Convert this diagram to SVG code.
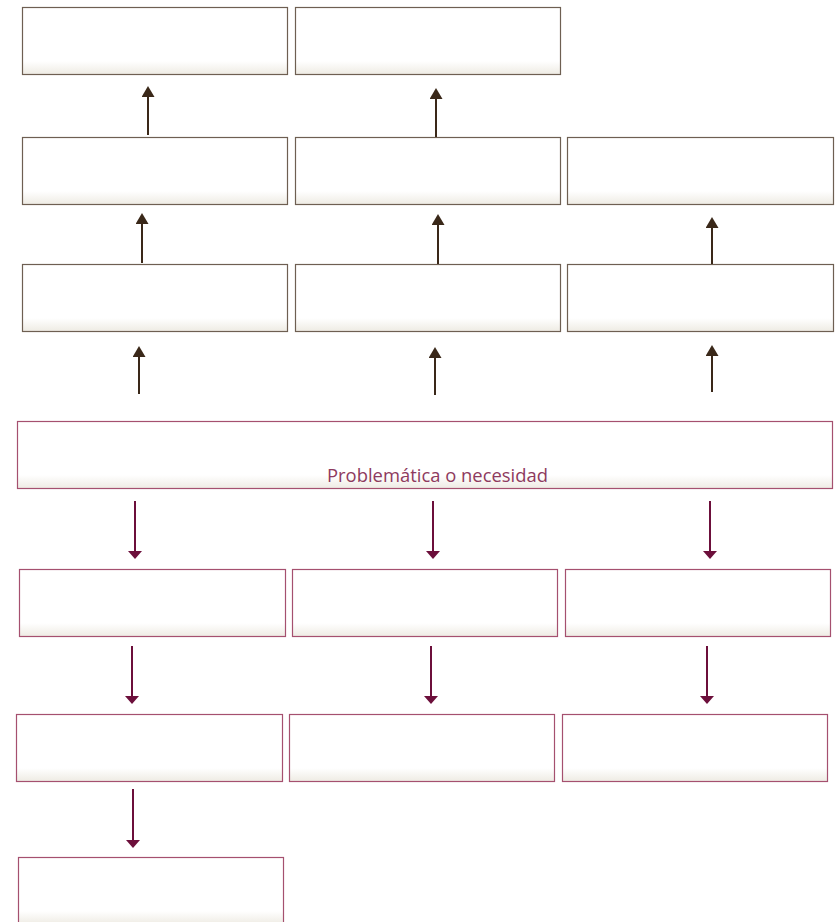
<svg xmlns="http://www.w3.org/2000/svg" width="839" height="922" viewBox="0 0 839 922">
<defs>
<linearGradient id="g" x1="0" y1="0" x2="0" y2="1">
<stop offset="0" stop-color="#ffffff"/>
<stop offset="0.8" stop-color="#ffffff"/>
<stop offset="1" stop-color="#eeebe3"/>
</linearGradient>
<marker id="up" viewBox="0 0 11 13" refX="0" refY="6.5" markerWidth="11" markerHeight="13" markerUnits="userSpaceOnUse" orient="auto">
<path d="M0,0 L11,6.5 L0,13 Z" fill="#3a2819"/>
</marker>
<marker id="down" viewBox="0 0 8 14" refX="0" refY="7" markerWidth="8" markerHeight="14" markerUnits="userSpaceOnUse" orient="auto">
<path d="M0,0 L8,7 L0,14 Z" fill="#6c0f3b"/>
</marker>
</defs>
<style>
.bu{fill:url(#g);stroke:#6e5f52;stroke-width:1.2}
.bd{fill:url(#g);stroke:#a5506f;stroke-width:1.2}
.au{stroke:#3a2819;stroke-width:2;fill:none;marker-end:url(#up)}
.ad{stroke:#6c0f3b;stroke-width:2;fill:none;marker-end:url(#down)}
.t{font-family:"Open Sans","Noto Sans",sans-serif;font-size:18px;fill:#8e3a5e}
</style>
<g id="n_r1c1"><rect class="bu" x="22.5" y="7.5" width="265" height="67"/></g>
<g id="n_r1c2"><rect class="bu" x="295.5" y="7.5" width="265" height="67"/></g>
<g id="n_r2c1"><rect class="bu" x="22.5" y="137.5" width="265" height="67"/></g>
<g id="n_r2c2"><rect class="bu" x="295.5" y="137.5" width="265" height="67"/></g>
<g id="n_r2c3"><rect class="bu" x="567.5" y="137.5" width="266" height="67"/></g>
<g id="n_r3c1"><rect class="bu" x="22.5" y="264.5" width="265" height="67"/></g>
<g id="n_r3c2"><rect class="bu" x="295.5" y="264.5" width="265" height="67"/></g>
<g id="n_r3c3"><rect class="bu" x="567.5" y="264.5" width="266" height="67"/></g>
<g id="n_main"><rect class="bd" x="17.5" y="421.5" width="815" height="67"/><text class="t" x="327" y="482" textLength="221" lengthAdjust="spacingAndGlyphs">Problemática o necesidad</text></g>
<g id="n_a1"><rect class="bd" x="19.5" y="569.5" width="266" height="67"/></g>
<g id="n_a2"><rect class="bd" x="292.5" y="569.5" width="265" height="67"/></g>
<g id="n_a3"><rect class="bd" x="565.5" y="569.5" width="265" height="67"/></g>
<g id="n_b1"><rect class="bd" x="16.5" y="714.5" width="266" height="67"/></g>
<g id="n_b2"><rect class="bd" x="289.5" y="714.5" width="265" height="67"/></g>
<g id="n_b3"><rect class="bd" x="562.5" y="714.5" width="265" height="67"/></g>
<g id="n_c1"><rect class="bd" x="18.5" y="857.5" width="265" height="67"/></g>
<g id="connectors">
<line class="au" x1="148" y1="135" x2="148" y2="97"/>
<line class="au" x1="436" y1="137" x2="436" y2="99"/>
<line class="au" x1="142" y1="263" x2="142" y2="224"/>
<line class="au" x1="438" y1="264" x2="438" y2="225"/>
<line class="au" x1="712" y1="264" x2="712" y2="228"/>
<line class="au" x1="139" y1="394" x2="139" y2="357"/>
<line class="au" x1="435" y1="395" x2="435" y2="358"/>
<line class="au" x1="712" y1="392" x2="712" y2="356"/>
<line class="ad" x1="135" y1="501" x2="135" y2="551"/>
<line class="ad" x1="433" y1="501" x2="433" y2="551"/>
<line class="ad" x1="710" y1="501" x2="710" y2="551"/>
<line class="ad" x1="132" y1="646" x2="132" y2="696"/>
<line class="ad" x1="431" y1="646" x2="431" y2="696"/>
<line class="ad" x1="707" y1="646" x2="707" y2="696"/>
<line class="ad" x1="133" y1="789" x2="133" y2="840"/>
</g>
</svg>
